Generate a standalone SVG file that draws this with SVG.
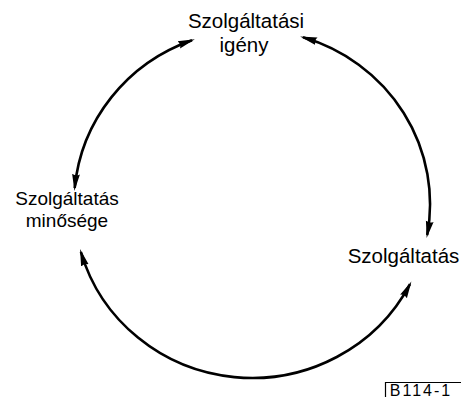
<svg xmlns="http://www.w3.org/2000/svg" width="461" height="403" viewBox="0 0 461 403">
<style>
text{font-family:"Liberation Sans",Arial,sans-serif;fill:#000;text-anchor:middle}
.lbl{font-size:20.5px}
.sm{font-size:19px}
.arc{fill:none;stroke:#000;stroke-width:2.6;marker-start:url(#ah);marker-end:url(#ah)}
.tag{fill:none;stroke:#000;stroke-width:1.2}
</style>
<defs>
<marker id="ah" markerUnits="userSpaceOnUse" viewBox="0 0 17 9" markerWidth="17" markerHeight="9" refX="14" refY="4.5" orient="auto-start-reverse">
<path d="M0,0.6 L17,4.5 L0,8.4 Q2.5,4.5 0,0.6 Z" fill="#000"/>
</marker>
</defs>
<rect width="461" height="403" fill="#fff"/>
<g id="connectors">
<path class="arc" d="M192,40.2 A178,174 0 0 0 74.7,188"/>
<path class="arc" d="M303,37.3 A178,174 0 0 1 427.2,235"/>
<path class="arc" d="M80.9,252 A178,174 0 0 0 410,284.1"/>
</g>
<g id="node-igeny">
<text class="lbl" x="246" y="28">Szolgáltatási</text>
<text class="lbl" x="244" y="52">igény</text>
</g>
<g id="node-minoseg">
<text class="sm" x="67" y="205">Szolgáltatás</text>
<text class="sm" x="67" y="227">minősége</text>
</g>
<g id="node-szolgaltatas">
<text class="lbl" x="403.5" y="263">Szolgáltatás</text>
</g>
<g id="tag">
<path class="tag" d="M385.5,397 V382.5 H461"/>
<text x="421" y="395.5" style="font-size:16px;letter-spacing:2px">B114-1</text>
</g>
</svg>
